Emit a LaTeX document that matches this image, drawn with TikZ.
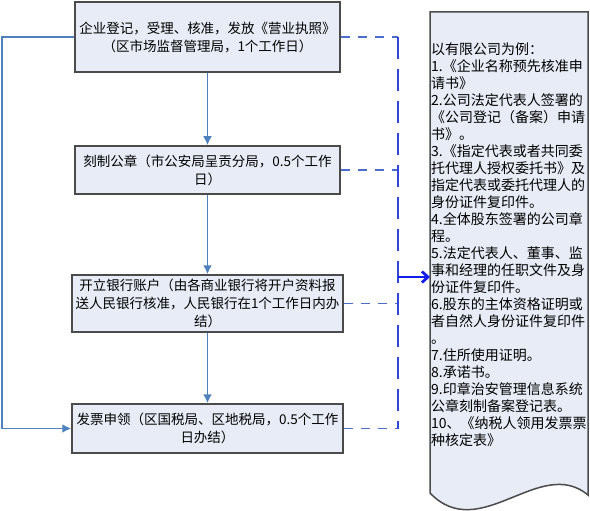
\documentclass[tikz,border=0pt]{standalone}
\usepackage{fontspec}
\setmainfont{Noto Sans CJK SC}
\usetikzlibrary{arrows.meta}
\definecolor{boxfill}{RGB}{231,236,246}
\definecolor{boxline}{RGB}{75,75,75}
\definecolor{flowblue}{RGB}{79,129,189}
\definecolor{dashblue}{RGB}{50,70,215}
\definecolor{hdashblue}{RGB}{75,110,205}
\definecolor{arrblue}{RGB}{20,30,235}
\tikzset{
  stepbox/.style={draw=boxline, line width=1.5pt, fill=boxfill, align=center,
    inner sep=2pt, font=\fontsize{13.5}{18}\selectfont},
  flow/.style={draw=flowblue, line width=1.9pt, -{Latex[length=9pt,width=9pt]}},
  hdash/.style={draw=hdashblue, line width=1.6pt, dash pattern=on 9pt off 8pt},
  vdash/.style={draw=dashblue, line width=1.9pt, dash pattern=on 22pt off 10pt},
  bigarrow/.style={draw=arrblue, line width=2.8pt, -{Straight Barb[length=6pt,width=11pt]}},
}
\begin{document}
\begin{tikzpicture}[x=1pt,y=-1pt]
\useasboundingbox (0,0) rectangle (590,511);
\node[stepbox, minimum width=265pt, minimum height=70pt] (b1) at (207.5,37)
  {企业登记，受理、核准，发放《营业执照》\\（区市场监督管理局，1个工作日）};
\node[stepbox, minimum width=265pt, minimum height=48pt] (b2) at (207.5,170)
  {刻制公章（市公安局呈贡分局，0.5个工作\\日）};
\node[stepbox, minimum width=271pt, minimum height=57pt] (b3) at (207.5,303.5)
  {开立银行账户（由各商业银行将开户资料报\\送人民银行核准，人民银行在1个工作日内办\\结）};
\node[stepbox, minimum width=271pt, minimum height=49pt] (b4) at (207.5,428.5)
  {发票申领（区国税局、区地税局，0.5个工作\\日办结）};
\draw[flow] (b1.south) -- (b2.north);
\draw[flow] (b2.south) -- (b3.north);
\draw[flow] (b3.south) -- (b4.north);
\coordinate (lc) at (2,0);
\draw[flow] (b1.west) -- (b1.west -| lc) -- (b4.west -| lc) -- (b4.west);
% document shape
\draw[draw=boxline, line width=1.5pt, fill=boxfill]
  (430,12) -- (588,12) -- (588,495)
  .. controls (540,455) and (480,545) .. (430,493) -- cycle;
\coordinate (d) at (430,277);
\coordinate (j) at (398,277);
\node[anchor=north west, inner sep=0pt, align=left,
  font=\fontsize{14}{17}\selectfont] (txt) at (431,43)
  {以有限公司为例：\\
   1.《企业名称预先核准申\\
   请书》\\
   2.公司法定代表人签署的\\
   《公司登记（备案）申请\\
   书》。\\
   3.《指定代表或者共同委\\
   托代理人授权委托书》及\\
   指定代表或委托代理人的\\
   身份证件复印件。\\
   4.全体股东签署的公司章\\
   程。\\
   5.法定代表人、董事、监\\
   事和经理的任职文件及身\\
   份证件复印件。\\
   6.股东的主体资格证明或\\
   者自然人身份证件复印件\\
   。\\
   7.住所使用证明。\\
   8.承诺书。\\
   9.印章治安管理信息系统\\
   公章刻制备案登记表。\\
   10、《纳税人领用发票票\\
   种核定表》};
\draw[hdash] (b1.east) -- (b1.east -| j);
\draw[hdash] (b2.east) -- (b2.east -| j);
\draw[hdash] (b3.east) -- (b3.east -| j);
\draw[hdash] (b4.east) -- (b4.east -| j);
\draw[vdash] (b1.east -| j) -- (b4.east -| j);
\draw[bigarrow] (j) -- (d);
\end{tikzpicture}
\end{document}
